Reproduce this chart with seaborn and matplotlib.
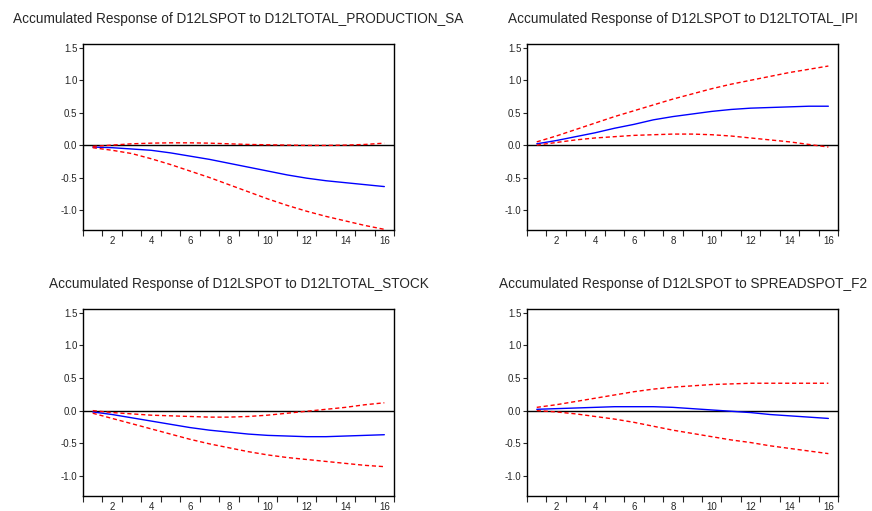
import numpy as np
import pandas as pd
import seaborn as sns
import matplotlib.pyplot as plt
from matplotlib.ticker import FixedLocator

# periods
periods = list(range(1, 17))

# panel titles
titles = [
    "Accumulated Response of D12LSPOT to D12LTOTAL_PRODUCTION_SA",
    "Accumulated Response of D12LSPOT to D12LTOTAL_IPI",
    "Accumulated Response of D12LSPOT to D12LTOTAL_STOCK",
    "Accumulated Response of D12LSPOT to SPREADSPOT_F2",
]

# accumulated responses (blue) and +/- 2 S.E. bands (red)
resp_prod = [-0.03, -0.04, -0.06, -0.08, -0.12, -0.17, -0.22, -0.28, -0.34, -0.40, -0.46, -0.51, -0.55, -0.58, -0.61, -0.64]
up_prod = [-0.02, 0.00, 0.02, 0.03, 0.035, 0.035, 0.03, 0.02, 0.01, 0.005, 0.0, -0.005, -0.005, 0.0, 0.01, 0.03]
lo_prod = [-0.04, -0.08, -0.13, -0.21, -0.30, -0.40, -0.50, -0.61, -0.72, -0.83, -0.93, -1.02, -1.10, -1.17, -1.24, -1.30]

resp_ipi = [0.02, 0.07, 0.13, 0.19, 0.26, 0.32, 0.39, 0.44, 0.48, 0.52, 0.55, 0.57, 0.58, 0.59, 0.60, 0.60]
up_ipi = [0.05, 0.14, 0.24, 0.34, 0.44, 0.53, 0.62, 0.71, 0.79, 0.87, 0.94, 1.00, 1.06, 1.12, 1.17, 1.22]
lo_ipi = [0.00, 0.04, 0.08, 0.11, 0.13, 0.15, 0.16, 0.17, 0.17, 0.16, 0.14, 0.11, 0.08, 0.05, 0.01, -0.03]

resp_stock = [-0.02, -0.06, -0.11, -0.16, -0.21, -0.26, -0.30, -0.33, -0.36, -0.38, -0.39, -0.40, -0.40, -0.39, -0.38, -0.37]
up_stock = [0.0, -0.03, -0.05, -0.07, -0.08, -0.09, -0.10, -0.10, -0.09, -0.07, -0.04, -0.01, 0.02, 0.05, 0.09, 0.12]
lo_stock = [-0.04, -0.12, -0.20, -0.28, -0.36, -0.44, -0.51, -0.57, -0.63, -0.68, -0.72, -0.75, -0.78, -0.81, -0.84, -0.86]

resp_spread = [0.02, 0.03, 0.04, 0.05, 0.06, 0.06, 0.06, 0.05, 0.03, 0.01, -0.01, -0.03, -0.06, -0.08, -0.10, -0.12]
up_spread = [0.05, 0.09, 0.14, 0.19, 0.24, 0.29, 0.33, 0.36, 0.38, 0.40, 0.41, 0.42, 0.42, 0.42, 0.42, 0.42]
lo_spread = [0.00, -0.02, -0.05, -0.09, -0.13, -0.18, -0.24, -0.30, -0.35, -0.40, -0.45, -0.49, -0.54, -0.58, -0.62, -0.66]

yticks = [-1.0, -0.5, 0.0, 0.5, 1.0, 1.5]
xlabels = [2, 4, 6, 8, 10, 12, 14, 16]

panels = [
    (resp_prod, up_prod, lo_prod),
    (resp_ipi, up_ipi, lo_ipi),
    (resp_stock, up_stock, lo_stock),
    (resp_spread, up_spread, lo_spread),
]

sns.set_style("ticks")
plt.rcParams['font.family'] = ['Liberation Sans', 'DejaVu Sans']

fig = plt.figure(figsize=(8.72, 5.11), dpi=100)

# axes boxes [left, bottom, width, height] in figure fractions
boxes = [
    [0.0952, 0.5499, 0.3567, 0.364],
    [0.6044, 0.5499, 0.3567, 0.364],
    [0.0952, 0.0294, 0.3567, 0.366],
    [0.6044, 0.0294, 0.3567, 0.366],
]

for box, title, (resp, up, lo) in zip(boxes, titles, panels):
    ax = fig.add_axes(box)
    df = pd.DataFrame({"period": periods, "resp": resp, "up": up, "lo": lo})
    ax.axhline(0, color='black', lw=1.0, zorder=1)
    sns.lineplot(data=df, x="period", y="up", ax=ax, color='red', lw=1.0, linestyle=(0, (3, 2)), zorder=3)
    sns.lineplot(data=df, x="period", y="lo", ax=ax, color='red', lw=1.0, linestyle=(0, (3, 2)), zorder=3)
    sns.lineplot(data=df, x="period", y="resp", ax=ax, color='blue', lw=1.0, zorder=2)

    ax.set_xlim(0.5, 16.5)
    ax.set_ylim(-1.31, 1.56)
    ax.set_xlabel('')
    ax.set_ylabel('')

    ax.set_yticks(yticks)
    ax.set_yticklabels(['%.1f' % v for v in yticks])
    ax.set_xticks(xlabels)
    ax.set_xticklabels([str(v) for v in xlabels])
    ax.xaxis.set_minor_locator(FixedLocator(np.arange(0.5, 17, 1.0)))
    ax.tick_params(axis='x', which='major', length=0, labelsize=7, pad=4)
    ax.tick_params(axis='x', which='minor', length=4, width=0.8, direction='out')
    ax.tick_params(axis='y', which='major', length=3, width=0.8, labelsize=7, pad=1)
    for s in ax.spines.values():
        s.set_color('black')
        s.set_linewidth(1.0)
    ax.set_title(title, fontsize=9.8, pad=15)

plt.savefig('out.png', dpi=100)
